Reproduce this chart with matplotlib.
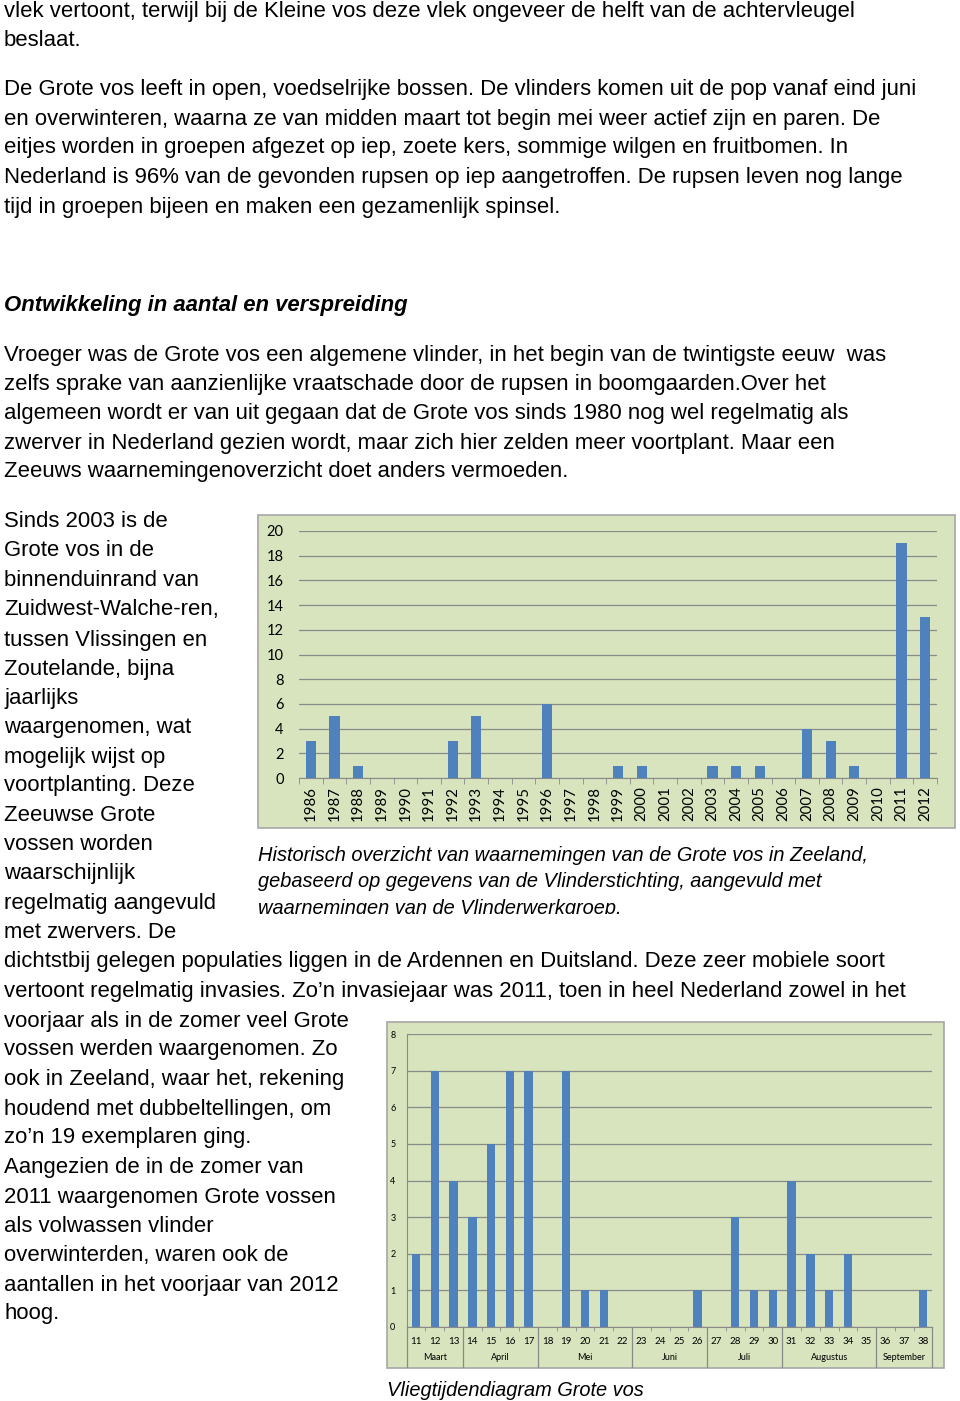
import matplotlib.pyplot as plt
from matplotlib.patches import Rectangle

# data - chart 1: waarnemingen per jaar
years = [str(y) for y in range(1986, 2013)]
counts = [3, 5, 1, 0, 0, 0, 3, 5, 0, 0, 6, 0, 0, 1, 1, 0, 0, 1, 1, 1, 0, 4, 3, 1, 0, 19, 13]

# data - chart 2: vliegtijd per week
weeks = [str(w) for w in range(11, 39)]
week_counts = [2, 7, 4, 3, 5, 7, 7, 0, 7, 1, 1, 0, 0, 0, 0, 1, 0, 3, 1, 1, 4, 2, 1, 2, 0, 0, 0, 1]
months = ["Maart", "April", "Mei", "Juni", "Juli", "Augustus", "September"]
month_weeks = [3, 4, 5, 4, 4, 5, 3]

W, H = 960, 1401
fig = plt.figure(figsize=(W / 100, H / 100), dpi=100)
fig.patch.set_facecolor("white")

BODY = "Liberation Sans"
FS = 15.95
CAP = 14.45
DY = 2  # text shift down, px
GREEN = "#d7e4bd"
BLUE = "#4f81bd"
GRID = "#8a8a8a"


def ptext(x, y, s, **kw):
    kw.setdefault("family", BODY)
    kw.setdefault("fontsize", FS)
    kw.setdefault("va", "center")
    kw.setdefault("ha", "left")
    kw.setdefault("color", "black")
    return fig.text(x / W, 1 - (y + DY) / H, s, **kw)


def box(x0, y0, x1, y1, **kw):
    r = Rectangle((x0 / W, 1 - y1 / H), (x1 - x0) / W, (y1 - y0) / H,
                  transform=fig.transFigure, **kw)
    fig.add_artist(r)
    return r


def axes_px(x0, y0, x1, y1):
    return fig.add_axes([x0 / W, 1 - y1 / H, (x1 - x0) / W, (y1 - y0) / H])


# body text
lines = [
    (10, "vlek vertoont, terwijl bij de Kleine vos deze vlek ongeveer de helft van de achtervleugel"),
    (38, "beslaat."),
    (88, "De Grote vos leeft in open, voedselrijke bossen. De vlinders komen uit de pop vanaf eind juni"),
    (117, "en overwinteren, waarna ze van midden maart tot begin mei weer actief zijn en paren. De"),
    (146, "eitjes worden in groepen afgezet op iep, zoete kers, sommige wilgen en fruitbomen. In"),
    (176, "Nederland is 96% van de gevonden rupsen op iep aangetroffen. De rupsen leven nog lange"),
    (205, "tijd in groepen bijeen en maken een gezamenlijk spinsel."),
    (353, "Vroeger was de Grote vos een algemene vlinder, in het begin van de twintigste eeuw  was"),
    (382, "zelfs sprake van aanzienlijke vraatschade door de rupsen in boomgaarden.Over het"),
    (412, "algemeen wordt er van uit gegaan dat de Grote vos sinds 1980 nog wel regelmatig als"),
    (441, "zwerver in Nederland gezien wordt, maar zich hier zelden meer voortplant. Maar een"),
    (470, "Zeeuws waarnemingenoverzicht doet anders vermoeden."),
    (520, "Sinds 2003 is de"),
    (549, "Grote vos in de"),
    (579, "binnenduinrand van"),
    (608, "Zuidwest-Walche-ren,"),
    (638, "tussen Vlissingen en"),
    (667, "Zoutelande, bijna"),
    (696, "jaarlijks"),
    (726, "waargenomen, wat"),
    (755, "mogelijk wijst op"),
    (784, "voortplanting. Deze"),
    (814, "Zeeuwse Grote"),
    (843, "vossen worden"),
    (872, "waarschijnlijk"),
    (901, "regelmatig aangevuld"),
    (931, "met zwervers. De"),
    (960, "dichtstbij gelegen populaties liggen in de Ardennen en Duitsland. Deze zeer mobiele soort"),
    (990, "vertoont regelmatig invasies. Zo\u2019n invasiejaar was 2011, toen in heel Nederland zowel in het"),
    (1019, "voorjaar als in de zomer veel Grote"),
    (1048, "vossen werden waargenomen. Zo"),
    (1077, "ook in Zeeland, waar het, rekening"),
    (1107, "houdend met dubbeltellingen, om"),
    (1136, "zo\u2019n 19 exemplaren ging."),
    (1165, "Aangezien de in de zomer van"),
    (1195, "2011 waargenomen Grote vossen"),
    (1224, "als volwassen vlinder"),
    (1253, "overwinterden, waren ook de"),
    (1283, "aantallen in het voorjaar van 2012"),
    (1312, "hoog."),
]
for y, s in lines:
    ptext(4, y, s)

ptext(4, 304, "Ontwikkeling in aantal en verspreiding", weight="bold", style="italic")

# ---------- chart 1 ----------
box(258, 515, 955, 828, facecolor=GREEN, edgecolor="#a6a6a6", lw=1.2, zorder=0)
ax1 = axes_px(299, 531, 937, 778)
ax1.set_facecolor("none")
x1 = range(len(years))
ax1.bar(x1, counts, width=0.43, color=BLUE, zorder=3)
ax1.set_xlim(-0.5, len(years) - 0.5)
ax1.set_ylim(0, 20)
ax1.set_yticks(range(0, 21, 2))
ax1.yaxis.grid(True, color=GRID, lw=0.9)
ax1.set_axisbelow(True)
ax1.set_xticks(list(x1))
ax1.set_xticklabels(years, rotation=90, family="Lato", fontsize=10.8)
ax1.set_xticks([i - 0.5 for i in range(len(years) + 1)], minor=True)
ax1.tick_params(axis="x", which="major", length=0, pad=6)
ax1.tick_params(axis="x", which="minor", length=4, color=GRID, direction="out")
ax1.tick_params(axis="y", length=0, pad=11, labelsize=10.5)
for lab in ax1.get_yticklabels():
    lab.set_family("Lato")
for s in ["top", "right", "left"]:
    ax1.spines[s].set_visible(False)
ax1.spines["bottom"].set_color(GRID)

cap = ["Historisch overzicht van waarnemingen van de Grote vos in Zeeland,",
       "gebaseerd op gegevens van de Vlinderstichting, aangevuld met",
       "waarnemingen van de Vlinderwerkgroep."]
for i, s in enumerate(cap):
    ptext(258, 853 + i * 26.5, s, style="italic", fontsize=CAP)
# caption frame cuts off the last line
box(252, 914, 960, 935, facecolor="white", edgecolor="none", zorder=10)

# ---------- chart 2 ----------
box(387, 1022, 944, 1368, facecolor=GREEN, edgecolor="#a6a6a6", lw=1.2, zorder=0)
ax2 = axes_px(406.6, 1034, 932.4, 1327)
ax2.set_facecolor("none")
x2 = range(len(weeks))
ax2.bar(x2, week_counts, width=0.45, color=BLUE, zorder=3)
ax2.set_xlim(-0.5, len(weeks) - 0.5)
ax2.set_ylim(0, 8)
ax2.set_yticks(range(0, 9))
ax2.yaxis.grid(True, color=GRID, lw=0.9)
ax2.set_axisbelow(True)
ax2.set_xticks(list(x2))
ax2.set_xticklabels(weeks, family="Lato", fontsize=7)
ax2.set_xticks([i - 0.5 for i in range(len(weeks) + 1)], minor=True)
ax2.tick_params(axis="x", which="major", length=0, pad=7)
ax2.tick_params(axis="x", which="minor", length=3, color=GRID)
ax2.tick_params(axis="y", length=0, pad=8, labelsize=6.5)
for lab in ax2.get_yticklabels():
    lab.set_family("Lato")
for s in ["top", "right"]:
    ax2.spines[s].set_visible(False)
ax2.spines["left"].set_color(GRID)
ax2.spines["bottom"].set_color(GRID)

tr = ax2.get_xaxis_transform()
start = 0
for name, n in zip(months, month_weeks):
    ax2.plot([start - 0.5, start - 0.5], [0, -0.135], transform=tr, color=GRID,
             lw=0.9, clip_on=False)
    ax2.text(start - 0.5 + n / 2, -0.105, name, transform=tr, ha="center", va="center",
             family="Lato", fontsize=6.5)
    start += n
ax2.plot([start - 0.5, start - 0.5], [0, -0.135], transform=tr, color=GRID,
         lw=0.9, clip_on=False)

ptext(387, 1388, "Vliegtijdendiagram Grote vos", style="italic", fontsize=CAP)

fig.savefig("out.png", dpi=100, facecolor="white")
